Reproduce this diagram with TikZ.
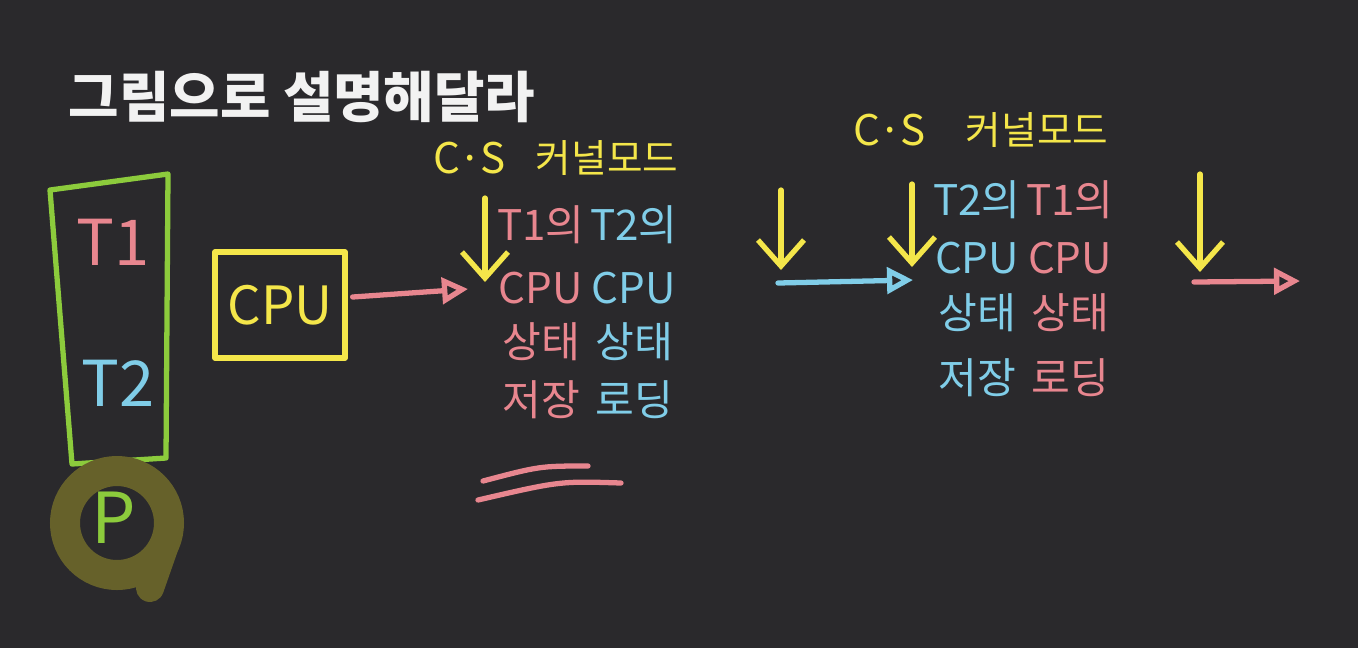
\documentclass[tikz,border=0pt]{standalone}
\usepackage{fontspec}
\newfontfamily\krfont{Noto Sans CJK KR}
\usetikzlibrary{arrows.meta, positioning}
\definecolor{Board_Bg}{HTML}{2A292C}
\definecolor{Chalk_White}{HTML}{F2F2F2}
\definecolor{Chalk_Green}{HTML}{8CCB3C}
\definecolor{Chalk_Olive}{HTML}{66612A}
\definecolor{Chalk_Pink}{HTML}{E8868F}
\definecolor{Chalk_Blue}{HTML}{80CDE8}
\definecolor{Chalk_Yellow}{HTML}{F4E64A}

\tikzset{
    chalk/.style={line width=1.5pt, line cap=round, line join=round},
    hand/.style={font=\krfont\fontsize{12}{14}\selectfont, inner sep=0pt},
    downarrow/.style={chalk, Chalk_Yellow, -{Straight Barb[length=2.6mm,width=4.6mm]}},
    sidearrow/.style={chalk, -{Triangle[open,length=2.6mm,width=2.6mm]}},
}

\begin{document}
\begin{tikzpicture}[x=0.1mm, y=-0.1mm]
    % Board
    \fill[Board_Bg] (0,0) rectangle (1358,648);

    % Title
    \node[Chalk_White, font=\krfont\bfseries\fontsize{15.6}{18}\selectfont, inner sep=0pt] (title) at (302,97) {그림으로 설명해달라};

    % Process with two threads
    \draw[chalk, Chalk_Green] (50,190) -- (168,174) -- (166,458) -- (72,464) -- cycle;
    \node[Chalk_Pink, font=\krfont\fontsize{18}{20}\selectfont] (t1) at (113,242) {T1};
    \node[Chalk_Blue, font=\krfont\fontsize{18}{20}\selectfont] (t2) at (118,383) {T2};
    \draw[Chalk_Olive, line width=3mm, line cap=round] (117,523) circle[radius=52];
    \draw[Chalk_Olive, line width=2.8mm, line cap=round] (164,548) -- (150,588);
    \node[Chalk_Green, font=\krfont\fontsize{20}{22}\selectfont] (p) at (114,518) {P};

    % CPU
    \node[draw=Chalk_Yellow, chalk, Chalk_Yellow, font=\krfont\fontsize{15}{17}\selectfont,
          minimum width=13mm, minimum height=10.6mm] (cpu) at (280,305) {CPU};
    \coordinate (in1) at (468,289);
    \draw[sidearrow, Chalk_Pink] (cpu.east) ++(5,-8) coordinate (out1) (out1) -- (in1);

    % First context switch
    \node[hand, Chalk_Yellow] (cs1) at (470,158) {C·S};
    \node[hand, Chalk_Yellow, font=\krfont\fontsize{11}{13}\selectfont] (kern1) at (607,158) {커널모드};
    \coordinate (d1top) at (485,198);
    \coordinate (d1bot) at (485,282);
    \draw[downarrow] (d1top) -- (d1bot);

    \node[hand, Chalk_Pink] (a1) at (541,225) {T1의};
    \node[hand, Chalk_Pink] (a2) at (541,288) {CPU};
    \node[hand, Chalk_Pink] (a3) at (541,342) {상태};
    \node[hand, Chalk_Pink] (a4) at (541,400) {저장};
    \node[hand, Chalk_Blue] (b1) at (634,225) {T2의};
    \node[hand, Chalk_Blue] (b2) at (634,288) {CPU};
    \node[hand, Chalk_Blue] (b3) at (634,342) {상태};
    \node[hand, Chalk_Blue] (b4) at (634,400) {로딩};

    % Underline
    \draw[chalk, Chalk_Pink] (483,481) .. controls (540,466) .. (588,466);
    \draw[chalk, Chalk_Pink] (478,500) .. controls (560,481) .. (621,483);

    % Second context switch
    \coordinate (d2top) at (781,190);
    \coordinate (d2bot) at (781,270);
    \draw[downarrow] (d2top) -- (d2bot);
    \coordinate (out2) at (778,283);
    \coordinate (in2) at (913,280);
    \draw[sidearrow, Chalk_Blue] (out2) -- (in2);

    \node[hand, Chalk_Yellow] (cs2) at (890,130) {C·S};
    \node[hand, Chalk_Yellow, font=\krfont\fontsize{11}{13}\selectfont] (kern2) at (1037,130) {커널모드};
    \coordinate (d3top) at (912,184);
    \coordinate (d3bot) at (912,267);
    \draw[downarrow] (d3top) -- (d3bot);

    \node[hand, Chalk_Blue] (c1) at (977,200) {T2의};
    \node[hand, Chalk_Blue] (c2) at (977,258) {CPU};
    \node[hand, Chalk_Blue] (c3) at (977,313) {상태};
    \node[hand, Chalk_Blue] (c4) at (977,378) {저장};
    \node[hand, Chalk_Pink] (e1) at (1070,200) {T1의};
    \node[hand, Chalk_Pink] (e2) at (1070,258) {CPU};
    \node[hand, Chalk_Pink] (e3) at (1070,313) {상태};
    \node[hand, Chalk_Pink] (e4) at (1070,378) {로딩};

    \coordinate (d4top) at (1200,174);
    \coordinate (d4bot) at (1200,272);
    \draw[downarrow] (d4top) -- (d4bot);
    \coordinate (out3) at (1194,282);
    \coordinate (in3) at (1300,281);
    \draw[sidearrow, Chalk_Pink] (out3) -- (in3);
\end{tikzpicture}
\end{document}
